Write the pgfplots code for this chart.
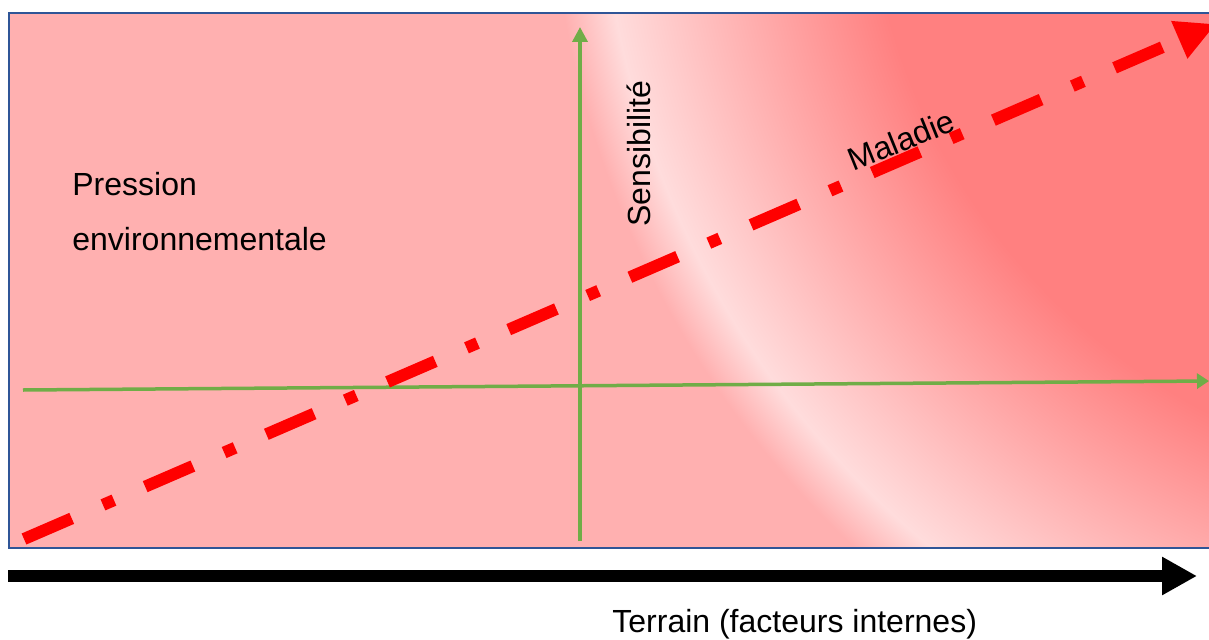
\documentclass[border=0pt]{standalone}
\usepackage{pgfplots}
\pgfplotsset{compat=1.18}
\usepackage{fontspec}
\setmainfont{Liberation Sans}
\usetikzlibrary{arrows.meta}
\definecolor{pinkbg}{HTML}{FFB0B0}
\definecolor{darkbg}{HTML}{FF8080}
\definecolor{ringw}{HTML}{FFDCDC}
\definecolor{grn}{HTML}{70AD47}
\definecolor{brd}{HTML}{2F5597}
% radius 25bp <-> 1800 px ; 1 px = 1/72 bp
\pgfdeclareradialshading{ring}{\pgfpoint{0bp}{0bp}}{%
  color(0bp)=(darkbg); color(8.8bp)=(darkbg); color(12.5bp)=(ringw);
  color(13.2bp)=(pinkbg); color(50bp)=(pinkbg)}
\tikzset{lbl/.style={font=\fontsize{16}{19}\selectfont, inner sep=0pt}}
\begin{document}
\begin{tikzpicture}
\path[use as bounding box] (0,0) rectangle (604.5pt,319.5pt);
\begin{scope}[x=0.5pt,y=0.5pt]
  \clip (0,0) rectangle (1209,639);
  \begin{scope}
    \clip (9,91) rectangle (1230,626);
    \shade[shading=ring] (1500,789) circle (1800);
  \end{scope}
  \draw[brd, line width=1pt] (9,91) rectangle (1230,626);
\end{scope}
\begin{axis}[at={(0pt,0pt)}, anchor=south west,
  scale only axis, width=604.5pt, height=319.5pt,
  xmin=0, xmax=1209, ymin=0, ymax=639,
  axis lines=none, clip=true]
% green axes
\addplot[grn, line width=1.75pt, -{Triangle[length=6pt,width=7.5pt]}] coordinates {(23,249) (1209,258)};
\addplot[grn, line width=1.75pt, -{Triangle[length=7.5pt,width=7.5pt]}] coordinates {(580,98) (580,612)};
% red dash-dot arrow
\addplot[red, line width=6pt, dash pattern=on 26pt off 17pt on 6pt off 17pt,
  -{Triangle[length=20pt,width=19pt]}] coordinates {(24,100) (1216,615)};
% black arrow
\addplot[black, line width=6pt, -{Triangle[length=17.5pt,width=18pt]}] coordinates {(8,63) (1197,63)};
% texts
\node[lbl, anchor=base west] at (axis cs:72,444) {Pression};
\node[lbl, anchor=base west] at (axis cs:72,389) {environnementale};
\node[lbl, anchor=base west, rotate=90] at (axis cs:650,412) {Sensibilité};
\node[lbl, anchor=base west, rotate=22] at (axis cs:853,467) {Maladie};
\node[lbl, anchor=base west] at (axis cs:612,7) {Terrain (facteurs internes)};
\end{axis}
\end{tikzpicture}
\end{document}
